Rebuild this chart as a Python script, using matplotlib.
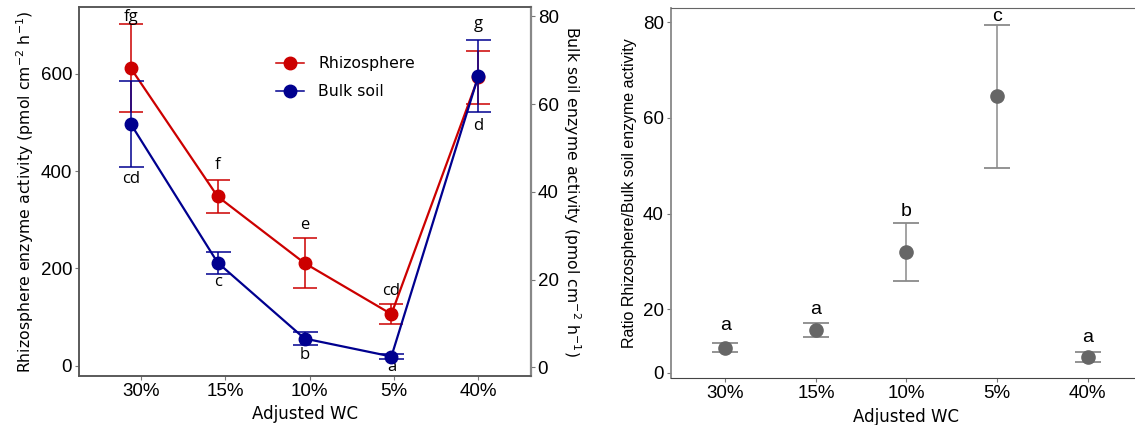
import numpy as np
import matplotlib.pyplot as plt
from matplotlib.lines import Line2D

# water content treatments (plot order)
wc = ['30%', '15%', '10%', '5%', '40%']

# left panel: rhizosphere (left axis) and bulk soil (right axis)
rhizo = [612, 348, 211, 106, 593]
rhizo_se = [90, 34, 52, 20, 54]
rhizo_letters = ['fg', 'f', 'e', 'cd', 'g']
bulk = [55.5, 23.9, 6.6, 2.5, 66.4]
bulk_se = [9.8, 2.5, 1.4, 0.6, 8.2]
bulk_letters = ['cd', 'c', 'b', 'a', 'd']

# right panel: ratio rhizosphere / bulk soil
ratio = [12.0, 15.7, 32.0, 64.5, 10.0]
ratio_se = [0.9, 1.4, 6.1, 15.0, 1.0]
ratio_letters = ['a', 'a', 'b', 'c', 'a']

RED = '#cc0000'
BLUE = '#00008f'
GREY = '#666666'

fig = plt.figure(figsize=(11.35, 4.25), dpi=100)

''' left panel '''
ax = fig.add_axes([79 / 1135, 1 - 375.7 / 425, (530.7 - 79) / 1135, (375.7 - 7.3) / 425])
ax2 = ax.twinx()
x = np.arange(len(wc))

ax.errorbar(x, rhizo, yerr=rhizo_se, color=RED, lw=1.6, marker='o', ms=9,
            elinewidth=1.1, capsize=8.5, capthick=1.1, zorder=3)
ax2.errorbar(x, bulk, yerr=bulk_se, color=BLUE, lw=1.6, marker='o', ms=9,
             elinewidth=1.1, capsize=9, capthick=1.1, zorder=3)

# significance letters (offsets in points from the bar ends)
rhizo_off = [5.5, 10.8, 9.4, 10, 19.2]
for i, lab in enumerate(rhizo_letters):
    ax.annotate(lab, xy=(x[i], rhizo[i] + rhizo_se[i]), xytext=(0, rhizo_off[i]),
                textcoords='offset points', ha='center', va='center', fontsize=12,
                family='Open Sans')
bulk_off = [8.6, 6, 7.7, 5.3, 9.9]
for i, lab in enumerate(bulk_letters):
    ax2.annotate(lab, xy=(x[i], bulk[i] - bulk_se[i]), xytext=(0, -bulk_off[i]),
                 textcoords='offset points', ha='center', va='center', fontsize=12,
                 family='Open Sans')

ax.set_xlim(-0.595, 4.603)
ax.set_ylim(-20.6, 737)
ax2.set_ylim(-1.87, 82.05)
ax.set_yticks([0, 200, 400, 600])
ax2.set_yticks([0, 20, 40, 60, 80])
# tick labels sit slightly right of the points in the original
ax.set_xticks(0.12 + 0.969 * x)
ax.set_xticklabels(wc)

for a in (ax, ax2):
    a.tick_params(length=3, width=0.8, color='#777777', labelsize=13.5, pad=2)
    for lab in a.get_xticklabels() + a.get_yticklabels():
        lab.set_family('Liberation Sans')
    for s in a.spines.values():
        s.set_color('#555555')
        s.set_linewidth(1.1)
ax2.spines['right'].set_color('#888888')
ax2.spines['right'].set_linewidth(1.6)

ax.set_xlabel('Adjusted WC', fontsize=12, labelpad=4)
ax.set_ylabel(r'Rhizosphere enzyme activity (pmol cm$^{-2}$ h$^{-1}$)', fontsize=11.3, labelpad=3)
ax2.set_ylabel(r'Bulk soil enzyme activity (pmol cm$^{-2}$ h$^{-1}$)', fontsize=11.3,
               rotation=270, labelpad=17)

handles = [Line2D([], [], color=RED, marker='o', ms=9, lw=1.1),
           Line2D([], [], color=BLUE, marker='o', ms=9, lw=1.1)]
ax2.legend(handles, ['Rhizosphere', 'Bulk soil'], frameon=False, fontsize=11.3,
           loc='upper left', bbox_to_anchor=(262 / 1135, 1 - 42 / 425),
           bbox_transform=fig.transFigure, handlelength=1.8, handletextpad=0.9,
           labelspacing=0.85)

''' right panel '''
bx = fig.add_axes([670.7 / 1135, 1 - 378 / 425, (1142 - 670.7) / 1135, (378 - 8.3) / 425])
bx.errorbar(x, ratio, yerr=ratio_se, color=GREY, ecolor='#8a8a8a', ls='none', marker='o',
            ms=9.5, elinewidth=1.1, capsize=9.5, capthick=1.3)
ratio_off = [13, 10, 8, 6.2, 10.8]
for i, lab in enumerate(ratio_letters):
    bx.annotate(lab, xy=(x[i], ratio[i] + ratio_se[i]), xytext=(0, ratio_off[i]),
                textcoords='offset points', ha='center', va='center', fontsize=14,
                family='Liberation Sans')

bx.set_xlim(-0.603, 4.6)
bx.set_ylim(5.63, 82.93)
bx.set_xticks(x)
bx.set_xticklabels(wc)
# the original puts its "0" label just below the 20 tick
bx.set_yticks([6.74, 20, 40, 60, 80])
bx.set_yticklabels(['0', '20', '40', '60', '80'])
bx.tick_params(length=3, width=0.8, color='#777777', labelsize=13.5, pad=2)
for lab in bx.get_xticklabels() + bx.get_yticklabels():
    lab.set_family('Liberation Sans')
bx.spines['right'].set_visible(False)
bx.spines['left'].set_color('#888888')
bx.spines['left'].set_linewidth(1.3)
bx.spines['bottom'].set_color('#444444')
bx.spines['top'].set_color('#666666')
bx.set_xlabel('Adjusted WC', fontsize=12, labelpad=4)
bx.set_ylabel('Ratio Rhizosphere/Bulk soil enzyme activity', fontsize=11.5,
              family='Liberation Sans', labelpad=4)

fig.savefig('out.png', dpi=100)
